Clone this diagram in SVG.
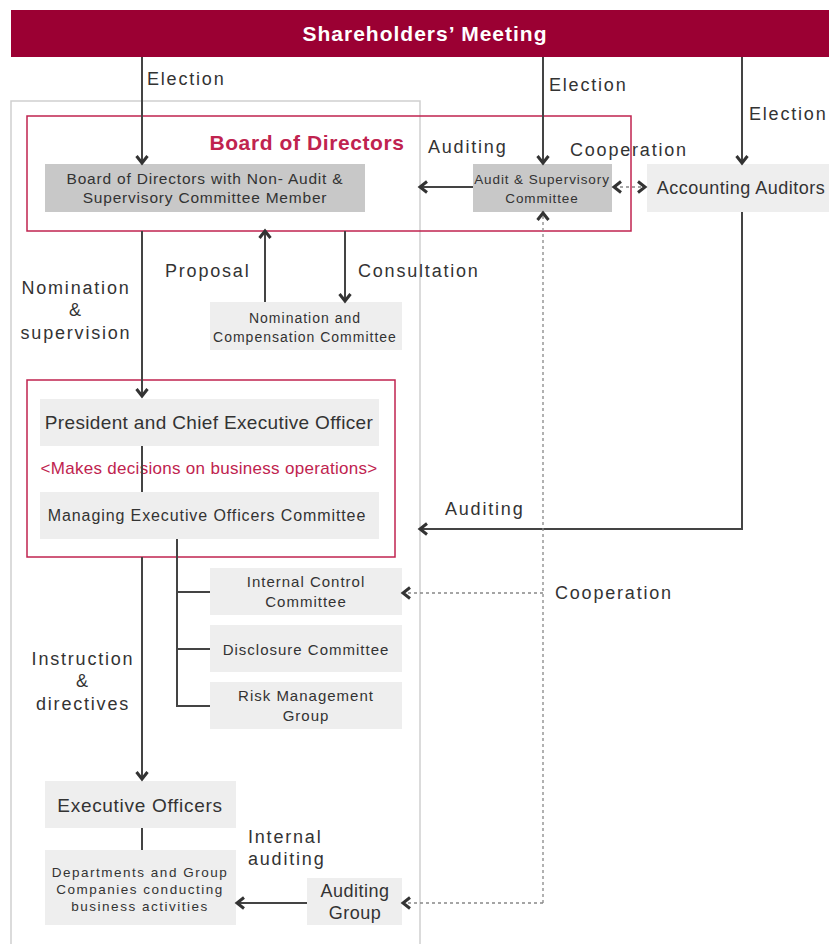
<svg xmlns="http://www.w3.org/2000/svg" width="829" height="944" viewBox="0 0 829 944">
<defs>
<marker id="chev" viewBox="0 0 12 14" refX="9" refY="7" markerWidth="12" markerHeight="14" markerUnits="userSpaceOnUse" orient="auto-start-reverse">
<path d="M2,1.5 L9,7 L2,12.5" fill="none" stroke="#333" stroke-width="3"/>
</marker>
</defs>
<style>
text{font-family:"Liberation Sans","Noto Sans",Arial,sans-serif;fill:#333}
.lbl{font-size:18px;letter-spacing:1.8px}
.box{fill:#eeeeee}
.dbox{fill:#c8c8c8}
.red{fill:none;stroke:#c0234f;stroke-width:1.5}
.ln{fill:none;stroke:#444;stroke-width:2}
.dot{fill:none;stroke:#888;stroke-width:1.3;stroke-dasharray:3 3}
.c{text-anchor:middle}
.sub{font-size:15px;letter-spacing:1px}
</style>
<rect width="829" height="944" fill="#fff"/>
<rect x="11" y="101" width="409" height="850" fill="none" stroke="#cfcfcf" stroke-width="1.5"/>

<g id="shareholders">
<rect x="11" y="10" width="818" height="47" fill="#9b0033"/>
<text x="425" y="41" class="c" style="fill:#fff;font-size:21px;font-weight:bold;letter-spacing:1px">Shareholders’ Meeting</text>
</g>

<g id="board">
<rect x="27" y="116" width="604" height="115" class="red"/>
<text x="307" y="150" class="c" style="fill:#c0234f;font-size:21px;font-weight:bold;letter-spacing:0.6px">Board of Directors</text>
</g>
<g id="board-non-audit">
<rect x="45" y="164" width="320" height="48" class="dbox"/>
<text x="205" y="184" class="c" style="font-size:15.5px;letter-spacing:0.8px">Board of Directors with Non- Audit &amp;</text>
<text x="205" y="203" class="c" style="font-size:15.5px;letter-spacing:0.8px">Supervisory Committee Member</text>
</g>
<g id="audit-committee">
<rect x="473" y="164" width="139" height="48" class="dbox"/>
<text x="542" y="184" class="c" style="font-size:13.5px;letter-spacing:0.9px">Audit &amp; Supervisory</text>
<text x="542" y="203" class="c" style="font-size:13.5px;letter-spacing:0.9px">Committee</text>
</g>
<g id="accounting-auditors">
<rect x="647" y="164" width="182" height="48" class="box"/>
<text x="741" y="194" class="c" style="font-size:18px;letter-spacing:0.5px">Accounting Auditors</text>
</g>
<g id="nomination-committee">
<rect x="210" y="302" width="192" height="48" class="box"/>
<text x="305" y="323" class="c" style="font-size:14px;letter-spacing:1px">Nomination and</text>
<text x="305" y="342" class="c" style="font-size:14px;letter-spacing:1px">Compensation Committee</text>
</g>
<g id="president-group">
<rect x="27" y="380" width="368" height="177" class="red"/>
<text x="209" y="474" class="c" style="fill:#c0234f;font-size:17px;letter-spacing:0.3px">&lt;Makes decisions on business operations&gt;</text>
</g>
<g id="president">
<rect x="40" y="399" width="339" height="47" class="box"/>
<text x="209" y="429" class="c" style="font-size:19px;letter-spacing:0.35px">President and Chief Executive Officer</text>
</g>
<g id="managing-committee">
<rect x="40" y="492" width="339" height="47" class="box"/>
<text x="207" y="521" class="c" style="font-size:16px;letter-spacing:0.9px">Managing Executive Officers Committee</text>
</g>
<g id="internal-control">
<rect x="210" y="568" width="192" height="47" class="box"/>
<text x="306" y="587" class="c sub">Internal Control</text>
<text x="306" y="607" class="c sub">Committee</text>
</g>
<g id="disclosure">
<rect x="210" y="625" width="192" height="47" class="box"/>
<text x="306" y="655" class="c sub">Disclosure Committee</text>
</g>
<g id="risk">
<rect x="210" y="682" width="192" height="47" class="box"/>
<text x="306" y="701" class="c sub">Risk Management</text>
<text x="306" y="721" class="c sub">Group</text>
</g>
<g id="executive-officers">
<rect x="45" y="781" width="191" height="47" class="box"/>
<text x="140" y="812" class="c" style="font-size:19px;letter-spacing:0.7px">Executive Officers</text>
</g>
<g id="departments">
<rect x="45" y="850" width="191" height="75" class="box"/>
<text x="140" y="877" class="c" style="font-size:13.5px;letter-spacing:1.5px">Departments and Group</text>
<text x="140" y="894" class="c" style="font-size:13.5px;letter-spacing:1.5px">Companies conducting</text>
<text x="140" y="911" class="c" style="font-size:13.5px;letter-spacing:1.5px">business activities</text>
</g>
<g id="auditing-group">
<rect x="307" y="878" width="95" height="47" class="box"/>
<text x="355" y="897" class="c" style="font-size:18px;letter-spacing:0.5px">Auditing</text>
<text x="355" y="919" class="c" style="font-size:18px;letter-spacing:0.5px">Group</text>
</g>

<g id="connectors">
<line x1="142" y1="57" x2="142" y2="163" class="ln" marker-end="url(#chev)"/>
<line x1="543" y1="57" x2="543" y2="163" class="ln" marker-end="url(#chev)"/>
<line x1="742" y1="57" x2="742" y2="163" class="ln" marker-end="url(#chev)"/>
<line x1="473" y1="187" x2="420" y2="187" class="ln" marker-end="url(#chev)"/>
<line x1="614" y1="187" x2="645" y2="187" class="dot" marker-start="url(#chev)" marker-end="url(#chev)"/>
<path d="M742,212 V529 H420" class="ln" marker-end="url(#chev)"/>
<line x1="543" y1="903" x2="543" y2="213" class="dot" marker-end="url(#chev)"/>
<line x1="543" y1="593" x2="403" y2="593" class="dot" marker-end="url(#chev)"/>
<line x1="543" y1="903" x2="403" y2="903" class="dot" marker-end="url(#chev)"/>
<line x1="142" y1="231" x2="142" y2="396" class="ln" marker-end="url(#chev)"/>
<line x1="265" y1="302" x2="265" y2="231" class="ln" marker-end="url(#chev)"/>
<line x1="345" y1="231" x2="345" y2="301" class="ln" marker-end="url(#chev)"/>
<line x1="142" y1="446" x2="142" y2="492" class="ln"/>
<path d="M177,539 V706 H210 M177,592 H210 M177,649 H210" class="ln"/>
<line x1="142" y1="557" x2="142" y2="779" class="ln" marker-end="url(#chev)"/>
<line x1="142" y1="828" x2="142" y2="850" class="ln"/>
<line x1="307" y1="903" x2="237" y2="903" class="ln" marker-end="url(#chev)"/>
</g>

<g id="labels">
<text x="147" y="85" class="lbl">Election</text>
<text x="549" y="91" class="lbl">Election</text>
<text x="749" y="120" class="lbl">Election</text>
<text x="428" y="153" class="lbl">Auditing</text>
<text x="570" y="156" class="lbl">Cooperation</text>
<text x="76" y="294" class="lbl c">Nomination</text>
<text x="76" y="316" class="lbl c">&amp;</text>
<text x="76" y="339" class="lbl c">supervision</text>
<text x="165" y="277" class="lbl">Proposal</text>
<text x="358" y="277" class="lbl">Consultation</text>
<text x="445" y="515" class="lbl">Auditing</text>
<text x="555" y="599" class="lbl">Cooperation</text>
<text x="83" y="665" class="lbl c">Instruction</text>
<text x="83" y="687" class="lbl c">&amp;</text>
<text x="83" y="710" class="lbl c">directives</text>
<text x="248" y="843" class="lbl">Internal</text>
<text x="248" y="865" class="lbl">auditing</text>
</g>
</svg>
